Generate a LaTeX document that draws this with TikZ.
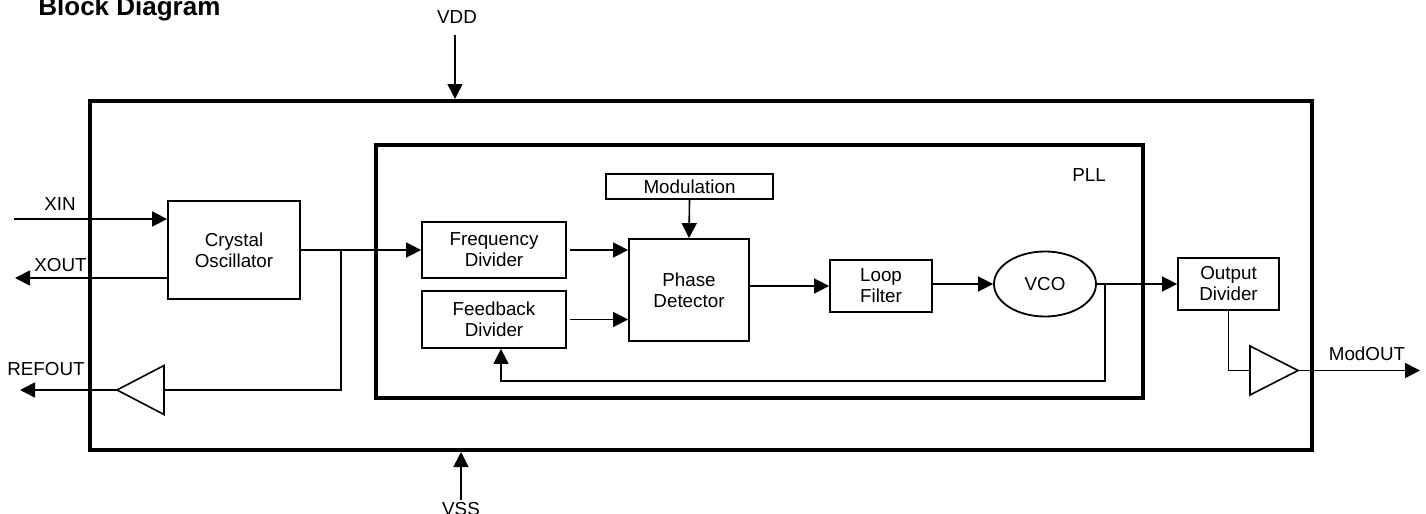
\documentclass[tikz,border=0pt]{standalone}
\usepackage{fontspec}
\setmainfont{Liberation Sans}
\usetikzlibrary{arrows.meta,shapes}

\begin{document}
\begin{tikzpicture}[x=0.5pt,y=-0.5pt,
	blk/.style={draw,line width=0.9pt,inner sep=0pt,align=center,font=\fontsize{9.4}{10.5}\selectfont},
	lbl/.style={inner sep=0pt,font=\fontsize{9.4}{10.5}\selectfont},
	sig/.style={line width=0.8pt,-{Triangle[length=7.5pt,width=7.5pt]}},
	wire/.style={line width=0.8pt}]
\useasboundingbox (0,0) rectangle (1426,514);
% frames
\node[draw,line width=2pt,minimum width=611pt,minimum height=174.5pt] (chip) at (701,275.5) {};
\node[draw,line width=1.7pt,minimum width=383.5pt,minimum height=126.5pt] (pll) at (759.5,271.5) {};
% blocks
\node[blk,minimum width=66pt,minimum height=49pt] (xtal) at (234,250) {Crystal\\Oscillator};
\node[blk,minimum width=72pt,minimum height=28pt] (freqdiv) at (494,250) {Frequency\\Divider};
\node[blk,minimum width=72pt,minimum height=28.5pt] (fbdiv) at (494,319.5) {Feedback\\Divider};
\node[blk,minimum width=60pt,minimum height=51pt] (pd) at (689,290) {Phase\\Detector};
\node[blk,minimum width=83.5pt,minimum height=12.5pt] (mod) at (689.5,186.5) {Modulation};
\node[blk,minimum width=51pt,minimum height=26pt] (lf) at (881,286) {Loop\\Filter};
\node[blk,ellipse,minimum width=51pt,minimum height=32.5pt] (vco) at (1045,284) {VCO};
\node[blk,minimum width=50.5pt,minimum height=26pt] (outdiv) at (1228.5,284) {Output\\Divider};
% labels
\node[inner sep=0pt,anchor=base west,font=\bfseries\fontsize{13}{15}\selectfont] (title) at (38,16) {Block Diagram};
\node[lbl] (vddlbl) at (457,17) {VDD};
\node[lbl] (xinlbl) at (60,204) {XIN};
\node[lbl] (xoutlbl) at (60.5,265.5) {XOUT};
\node[lbl] (reflbl) at (46,369) {REFOUT};
\node[lbl] (plllbl) at (1089,175) {PLL};
\node[lbl] (modlbl) at (1367,354) {ModOUT};
\node[lbl] (vsslbl) at (461,509) {VSS};
% pins and taps
\coordinate (vdd) at (455,35);
\coordinate (vss) at (461,500);
\coordinate (xin) at (14,219);
\coordinate (xout) at (15,278);
\coordinate (tap1) at (341,250);
\coordinate (refbuf) at (117,390);
\coordinate (refin) at (164,390);
\coordinate (refout) at (20,390);
\coordinate (tap2) at (1105,284);
\coordinate (fbk) at (1105,381);
\coordinate (outbuf) at (1298,370.5);
\coordinate (obin) at (1250,370.5);
\coordinate (modout) at (1420,370.5);
% buffers
\draw[wire] (refbuf) -- ([yshift=12.25pt]refin) -- ([yshift=-12.25pt]refin) -- cycle;
\draw[wire] (outbuf) -- ([yshift=12.25pt]obin) -- ([yshift=-12.25pt]obin) -- cycle;
% connections
\draw[sig] (vdd) -- (vdd |- chip.north);
\draw[sig] (vss) -- (vss |- chip.south);
\draw[sig] (xin) -- (xin -| xtal.west);
\draw[sig] (xout -| xtal.west) -- (xout);
\draw[sig] (xtal.east) -- (freqdiv.west);
\draw[wire] (tap1) |- (refin);
\draw[sig] (refbuf) -- (refout);
\draw[sig] ([xshift=1.5pt]freqdiv.east) -- (freqdiv.east -| pd.west);
\draw[sig] ([xshift=1.5pt]fbdiv.east) -- (fbdiv.east -| pd.west);
\draw[sig] (mod.south) -- (pd.north);
\draw[sig] (pd.east |- lf.west) -- (lf.west);
\draw[sig] (lf.east |- vco.west) -- (vco.west);
\draw[sig] (vco.east) -- (outdiv.west);
\draw[sig] (tap2) -- (fbk) -| ([xshift=3.5pt]fbdiv.south);
\draw[wire] (outdiv.south) |- (obin);
\draw[sig] (outbuf) -- (modout);
\end{tikzpicture}
\end{document}
